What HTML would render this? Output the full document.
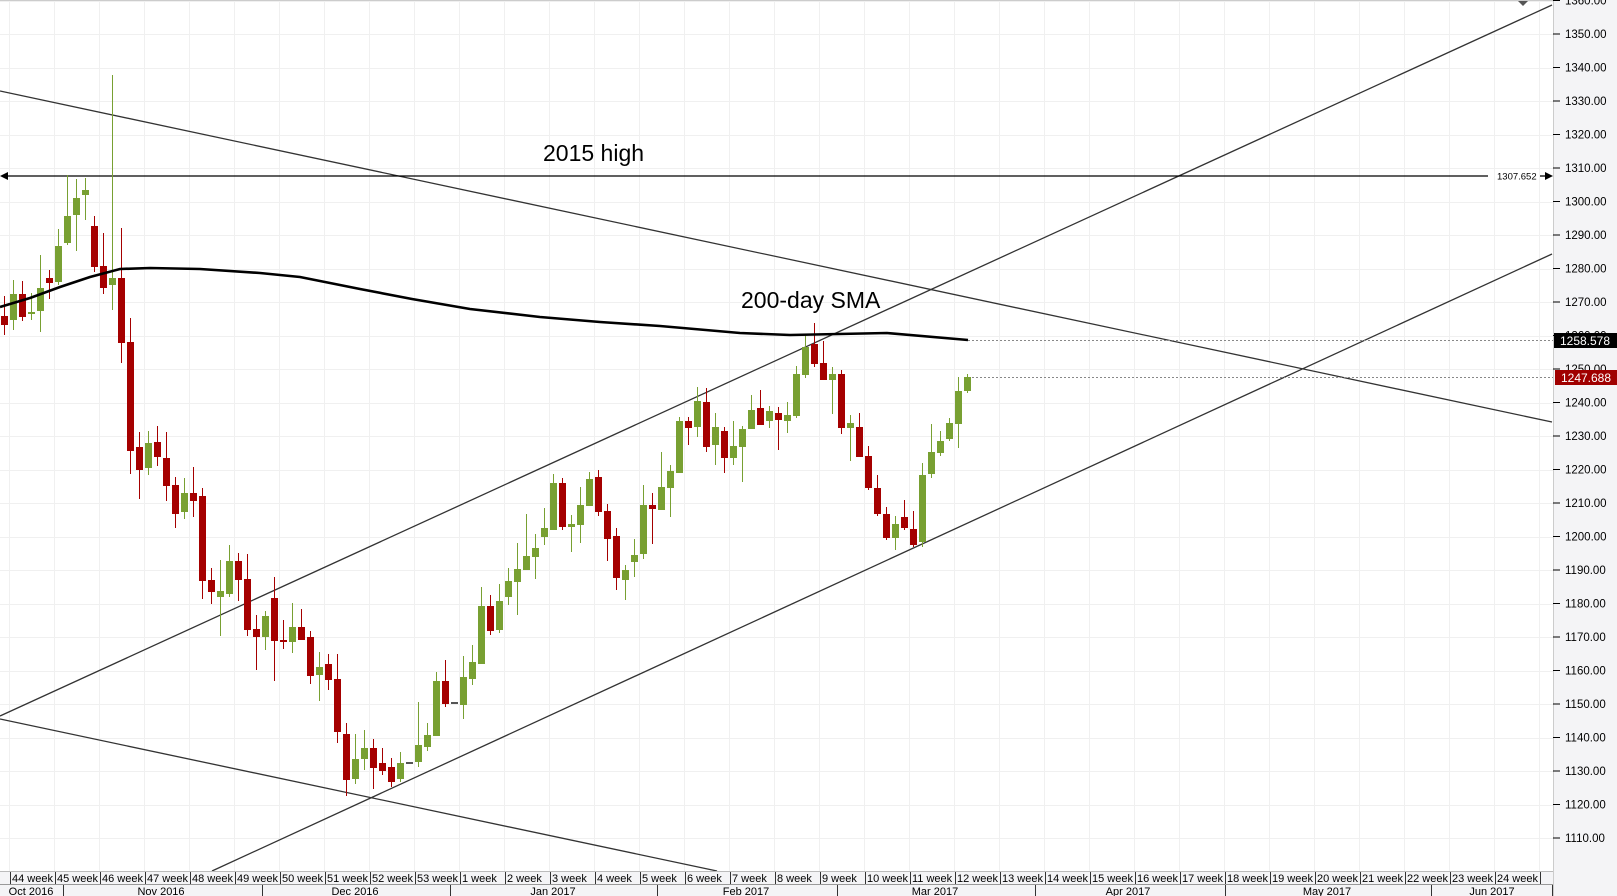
<!DOCTYPE html>
<html><head><meta charset="utf-8"><style>
html,body{margin:0;padding:0;background:#fff;width:1617px;height:896px;overflow:hidden}
svg{display:block;font-family:"Liberation Sans",sans-serif}
</style></head><body>
<svg id="s" width="1617" height="896" viewBox="0 0 1617 896" xmlns="http://www.w3.org/2000/svg">
<rect x="0" y="0" width="1617" height="896" fill="#fff"/>
<g id="grid"></g>
<g id="lines" stroke="#333" stroke-width="1.3" fill="none">
<line x1="0" y1="91" x2="1552" y2="422"/>
<line x1="0" y1="716" x2="1552" y2="5"/>
<line x1="212" y1="871" x2="1552" y2="254"/>
<line x1="0" y1="719" x2="717" y2="871"/>
</g>
<line x1="968" y1="340.5" x2="1553" y2="340.5" stroke="#888" stroke-dasharray="2,2"/>
<line x1="968" y1="377.5" x2="1553" y2="377.5" stroke="#888" stroke-dasharray="2,2"/>
<line x1="6" y1="176" x2="1488" y2="176" stroke="#000" stroke-width="1.3"/>
<polygon points="0,176 8,172 8,180" fill="#000"/>
<line x1="1540" y1="176" x2="1546" y2="176" stroke="#000" stroke-width="1.3"/>
<polygon points="1553,176 1545,172 1545,180" fill="#000"/>
<text x="1497" y="179.5" font-size="9.5" fill="#000">1307.652</text>
<g id="candles"></g>
<polyline fill="none" stroke="#000" stroke-width="2.6" points="0,307 30,298 60,287 90,277 120,269 150,268 200,269 260,273 300,277 360,289 412,299 470,309 540,317 600,322 660,326 740,333 790,335 887,333 968,340"/>
<text x="543" y="161" font-size="23" fill="#000">2015 high</text>
<text x="741" y="308" font-size="23" fill="#000">200-day SMA</text>
<polygon points="1517,0 1529,0 1523,6" fill="#555"/>
<line x1="0" y1="0.5" x2="1553" y2="0.5" stroke="#ccc"/>
<rect x="1553" y="0" width="64" height="896" fill="#f4f4f6"/>
<line x1="1553.5" y1="0" x2="1553.5" y2="896" stroke="#ccc"/>
<g id="yax" font-size="11.5" fill="#000"></g>
<rect x="1554" y="333" width="63" height="15" fill="#000"/>
<text x="1585" y="345" font-size="12" fill="#fff" text-anchor="middle">1258.578</text>
<rect x="1555" y="370" width="62" height="15" fill="#a00000"/>
<text x="1586" y="382" font-size="12" fill="#fff" text-anchor="middle">1247.688</text>
<rect x="0" y="871" width="1553" height="25" fill="#f4f4f6"/>
<line x1="0" y1="871.5" x2="1553" y2="871.5" stroke="#bbb"/>
<line x1="0" y1="884.5" x2="1553" y2="884.5" stroke="#999"/>
<g id="xax" font-size="11" fill="#000"></g>
</svg>
<script>
var NS="http://www.w3.org/2000/svg";
function el(p,t,a,txt){var e=document.createElementNS(NS,t);for(var k in a)e.setAttribute(k,a[k]);if(txt!=null)e.textContent=txt;document.getElementById(p).appendChild(e);return e;}
function Y(p){return 0.5+(1360-p)*3.35;}
// grid
for(var p=1110;p<=1360;p+=10){var y=Math.round(Y(p))+0.5;el("grid","line",{x1:0,y1:y,x2:1553,y2:y,stroke:"#f0f0f0"});}
for(var i=0;i<35;i++){var x=9.5+45*i;el("grid","line",{x1:x,y1:0,x2:x,y2:871,stroke:"#f0f0f0"});}
// y axis
for(var p=1110;p<=1360;p+=10){var y=Y(p);el("yax","line",{x1:1553,y1:y,x2:1560,y2:y,stroke:"#000"});el("yax","text",{x:1565,y:y+4},p.toFixed(2));}
// candles: [type, bodyTop, bodyBot, wickTop, wickBot]
var C=[
["r",316,325,296,335],["g",294,320,280,330],["r",294,317,281,321],["g",312,314,293,320],["g",288,311,255,332],
["r",278,283,270,299],["g",246,282,229,285],["g",216,243,175,245],["g",198,215,179,251],["g",190,195,178,220],
["r",226,267,216,272],["r",266,288,233,294],["g",278,285,75,310],["r",278,343,228,363],["r",342,451,318,474],
["r",447,470,432,499],["g",443,468,431,475],["r",442,457,426,466],["r",458,486,432,501],["r",485,514,477,528],
["g",493,512,478,519],["r",493,501,467,517],["r",496,581,488,599],["r",580,592,568,604],["g",591,597,560,636],
["g",561,594,545,597],["r",561,580,553,601],["r",579,630,554,636],["r",629,637,615,670],["g",616,637,611,650],
["r",598,641,577,681],["r",640,642,620,649],["g",627,642,603,653],["r",627,640,609,640],["r",637,676,631,684],
["g",667,675,652,701],["r",664,680,654,690],["r",679,732,654,743],["r",734,780,723,796],["g",759,779,734,784],
["g",748,759,730,770],["r",748,768,739,789],["r",763,771,748,775],["r",767,782,758,787],["g",763,779,752,782],
["d",762,764,762,764],["g",745,762,702,767],["g",735,747,723,751],["g",681,736,672,736],["r",681,704,660,707],
["d",702,704,702,704],["g",677,705,656,719],["g",662,679,645,685],["g",606,664,587,664],["r",606,631,595,635],
["g",601,630,584,633],["g",581,597,568,605],["g",569,582,543,615],["g",556,570,514,570],["g",548,557,534,579],
["g",528,537,508,545],["g",483,530,474,530],["r",483,527,478,530],["g",524,527,515,552],["g",505,525,487,543],
["g",479,506,472,506],["r",477,512,470,516],["r",511,539,504,561],["r",536,578,528,590],["g",570,580,565,600],
["g",555,562,539,577],["g",505,554,485,559],["r",505,509,493,544],["g",487,510,452,510],["g",471,488,465,517],
["g",421,473,417,473],["r",421,428,417,445],["g",401,427,387,437],["r",402,447,388,452],["g",427,445,413,465],
["r",431,458,427,473],["g",446,458,421,465],["g",429,447,426,482],["g",410,429,395,429],["r",408,425,390,425],
["g",411,421,406,428],["r",413,420,407,450],["g",415,421,402,433],["g",374,416,366,418],["g",347,375,335,378],
["r",344,364,323,367],["r",363,380,341,380],["g",374,380,367,414],["r",374,428,370,434],["g",423,428,415,461],
["r",427,457,413,457],["r",456,488,446,490],["r",488,514,475,516],["r",514,538,507,540],["g",524,538,516,550],
["r",517,528,500,530],["r",529,545,511,547],["g",475,542,463,547],["g",452,474,424,478],["g",441,453,431,456],
["g",423,439,418,441],["g",391,424,377,448],["g",377,391,374,393]
];
var col={g:"#78a032",r:"#a50000",d:"#555"};
for(var i=0;i<C.length;i++){var c=C[i],x=4.5+9*i,f=col[c[0]];
el("candles","line",{x1:x,y1:c[3],x2:x,y2:c[4],stroke:f,"stroke-width":1});
var h=Math.max(c[2]-c[1],c[0]=="d"?1.5:2);
el("candles","rect",{x:x-3.5,y:c[1],width:7,height:h,fill:f});}
// x axis weeks
var wk=[];for(var w=44;w<=53;w++)wk.push(w+" week");for(var w=1;w<=24;w++)wk.push(w+" week");
for(var i=0;i<wk.length;i++){var x=10+45*i;el("xax","line",{x1:x+0.5,y1:872,x2:x+0.5,y2:884,stroke:"#333"});el("xax","text",{x:x+2,y:882},wk[i]);}
el("xax","line",{x1:1540.5,y1:872,x2:1540.5,y2:884,stroke:"#333"});
var ms=[63,262,450,657,837,1035,1225,1431,1552];
ms.forEach(function(x){el("xax","line",{x1:x+0.5,y1:885,x2:x+0.5,y2:896,stroke:"#333"});});
var ml=[["Oct 2016",31],["Nov 2016",161],["Dec 2016",355],["Jan 2017",553],["Feb 2017",746],["Mar 2017",935],["Apr 2017",1128],["May 2017",1327],["Jun 2017",1492]];
ml.forEach(function(m){el("xax","text",{x:m[1],y:895,"text-anchor":"middle"},m[0]);});
</script>
</body></html>
